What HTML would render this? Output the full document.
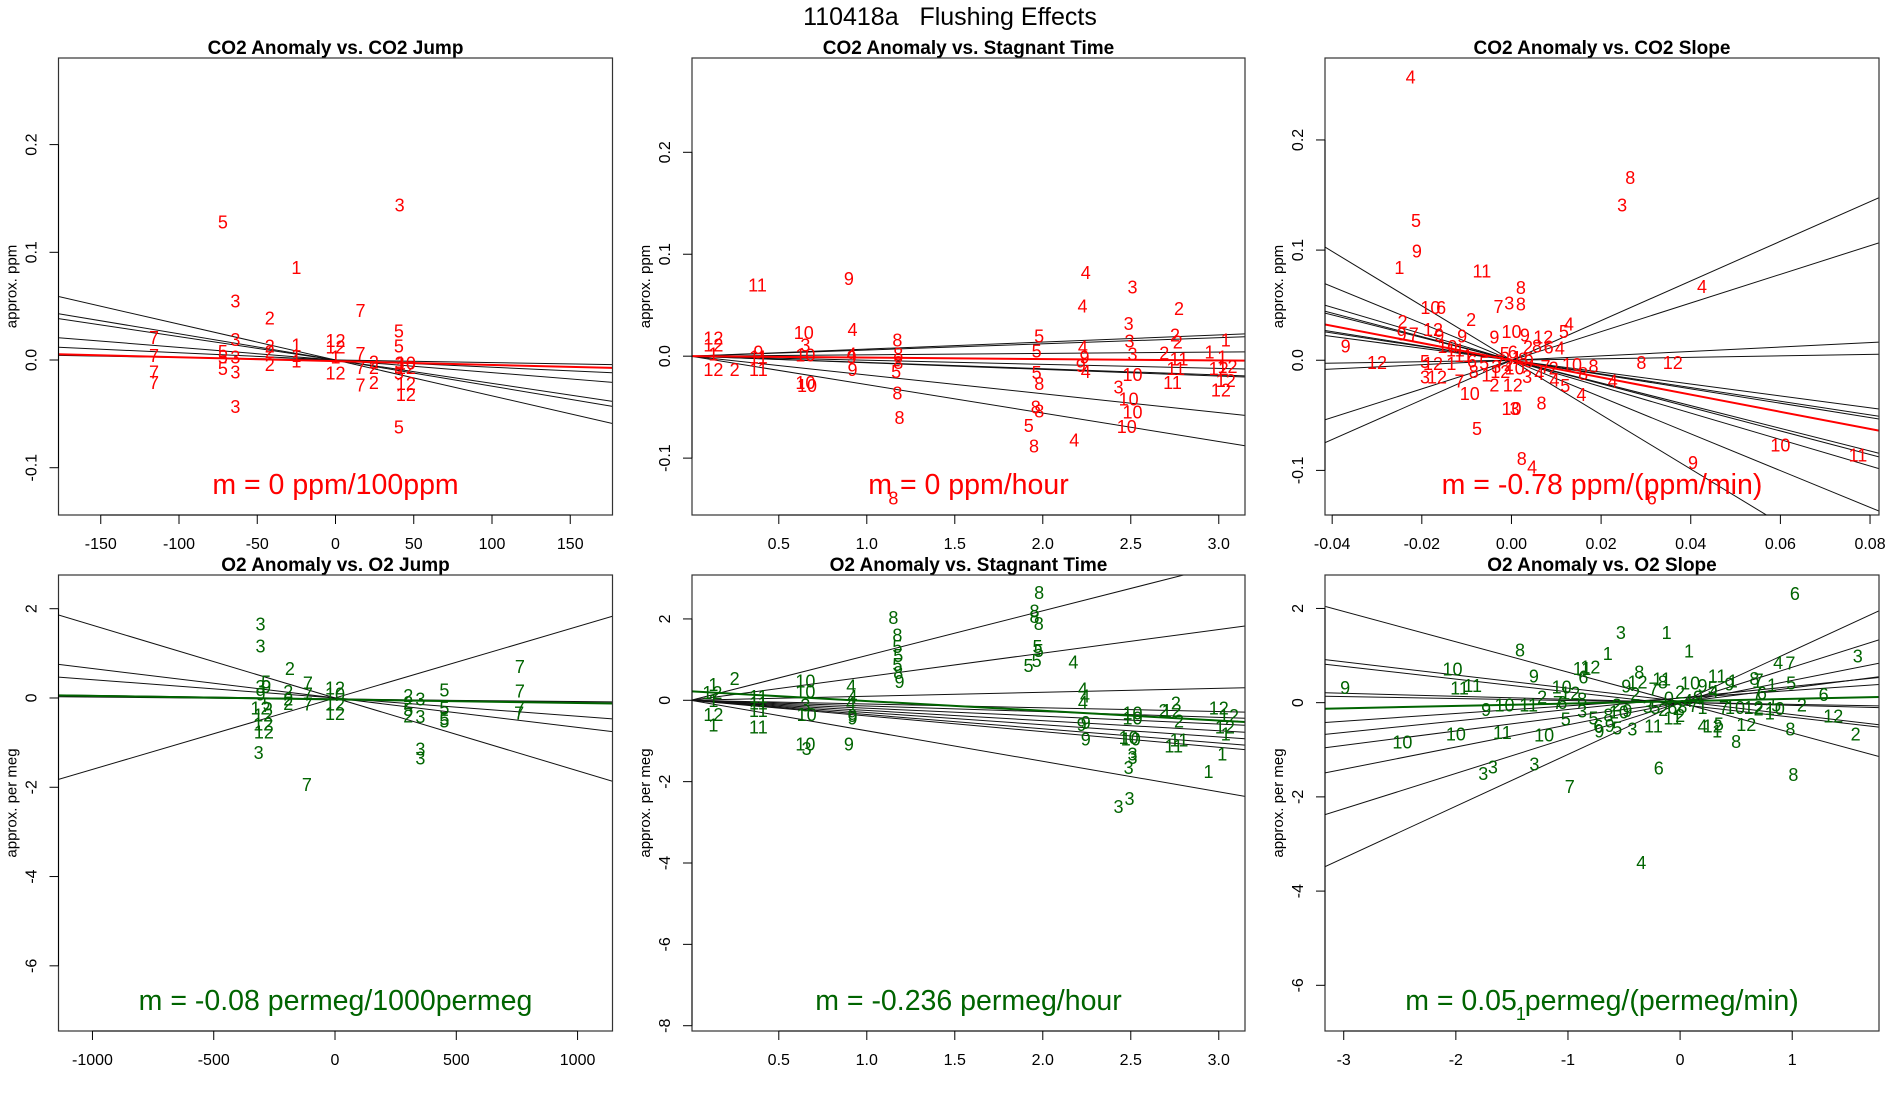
<!DOCTYPE html>
<html><head><meta charset="utf-8"><title>110418a Flushing Effects</title>
<style>
html,body{margin:0;padding:0;background:#fff;}
svg{display:block;font-family:"Liberation Sans",Arial,sans-serif;}
</style></head>
<body>
<svg id="chart" width="1900" height="1100" viewBox="0 0 1900 1100" xmlns="http://www.w3.org/2000/svg">
<rect x="0" y="0" width="1900" height="1100" fill="#fff"/>
<text x="950" y="25" text-anchor="middle" font-size="25" fill="#000" xml:space="preserve" style="white-space:pre">110418a   Flushing Effects</text>
</svg>
<script>
// ---------- Panel 1: CO2 Anomaly vs. CO2 Jump ----------
const p1Lab=["5","3","1","3","2","7","3","7","7","7","7","5","5","5","3","3","3","2","2","2","1","1","1","12","12","1","12","7","7","7","2","2","2","5","5","5","10","12","12","12","5","3"];
const p1X=[-72,41,-25,-64,-42,16,-64,-116,-116,-116,-116,-72,-72,-72,-64,-64,-64,-42,-42,-42,-25,-25,-25,0,0,0,0,16,16,16,24.5,24.5,24.5,40.5,40.5,40.5,45,45,45,45,40.5,41];
const p1Y=[0.128,0.144,0.086,0.055,0.039,0.046,0.019,0.021,0.004,-0.011,-0.021,0.008,0.003,-0.008,0.003,-0.011,-0.043,0.013,0.008,-0.004,0.014,0.004,-0.001,0.018,0.012,0.003,-0.012,0.006,-0.007,-0.023,-0.002,-0.007,-0.021,0.027,0.013,-0.062,-0.003,-0.007,-0.022,-0.032,-0.012,-0.003];
const p1Slopes=[-0.000333,-0.000243,-0.000217,-0.000117,-0.000067,-0.000024];
const p1Ints=[0,0,0,0,0,0];
const p1Fit=[-0.0000356,-0.001];
const p1XTicks=[-150,-100,-50,0,50,100,150];
const p1XTickLabels=["-150","-100","-50","0","50","100","150"];
const p1YTicks=[-0.1,0,0.1,0.2];
const p1YTickLabels=["-0.1","0.0","0.1","0.2"];

// ---------- Panel 2: CO2 Anomaly vs. Stagnant Time ----------
const p2Lab=["11","9","12","12","1","12","2","10","3","10","10","10","9","11","11","4","4","9","9","8","8","8","5","8","8","5","5","5","8","8","8","5","8","4","4","4","9","9","4","4","3","3","3","3","10","3","10","10","10","2","2","2","2","11","11","11","1","1","1","12","12","12","12","8"];
const p2X=[0.379,0.898,0.128,0.128,0.128,0.128,0.249,0.642,0.651,0.651,0.651,0.66,0.384,0.384,0.384,0.919,0.914,0.914,0.919,1.174,1.179,1.179,1.167,1.174,1.186,1.979,1.965,1.965,1.98,1.96,1.98,1.92,1.95,2.244,2.226,2.228,2.237,2.216,2.244,2.179,2.51,2.488,2.493,2.51,2.51,2.43,2.488,2.51,2.477,2.774,2.751,2.767,2.69,2.774,2.756,2.737,2.947,3.04,3.02,2.999,3.05,3.04,3.012,1.151];
const p2Y=[0.070,0.076,0.018,0.011,0.002,-0.013,-0.013,0.023,0.011,0.001,-0.026,-0.029,0.004,-0.001,-0.013,0.026,0.002,-0.001,-0.013,0.016,0.002,-0.006,-0.015,-0.036,-0.060,0.020,0.005,-0.016,-0.027,-0.050,-0.054,-0.068,-0.088,0.082,0.049,0.009,-0.001,-0.009,-0.015,-0.082,0.068,0.032,0.015,0.002,-0.018,-0.030,-0.042,-0.055,-0.069,0.047,0.021,0.014,0.003,-0.003,-0.012,-0.026,0.004,0.016,-0.001,-0.012,-0.010,-0.024,-0.033,-0.139];
const p2Slopes=[0.00694,0.00605,0.00134,-0.00146,-0.0040,-0.00615,-0.0065,-0.01844,-0.0279];
const p2Ints=[0,0,0,0,0,0,0,0,0];
const p2Fit=[-0.0014,0];
const p2XTicks=[0.5,1.0,1.5,2.0,2.5,3.0];
const p2XTickLabels=["0.5","1.0","1.5","2.0","2.5","3.0"];
const p2YTicks=[-0.1,0,0.1,0.2];
const p2YTickLabels=["-0.1","0.0","0.1","0.2"];

// ---------- Panel 3: CO2 Anomaly vs. CO2 Slope ----------
const p3Lab=["4","8","3","5","9","1","11","8","7","3","8","10","6","2","4","5","2","9","7","12","9","9","12","5","12","1","3","12","7","10","5","10","3","8","8","4","6","9","10","11","4","8","12","4","4","5","4","10","8","8","12","8","6","4","10","9","2","9","9","5","6","1","7","2","10","3","8","9","5","6","11","11","10","1","12","2","12","3","4","7","2","8"];
const p3X=[-0.0225,0.0265,0.0247,-0.0213,-0.0211,-0.025,-0.0066,0.0021,-0.0029,-0.0005,0.0021,-0.0181,-0.0157,-0.009,0.0128,0.0117,-0.0243,-0.0245,-0.0218,-0.0175,-0.0161,-0.037,-0.030,-0.0193,-0.0175,-0.0134,-0.0193,-0.0166,-0.0116,-0.0093,-0.0077,0,0.0007,0.0067,0.0023,0.0046,0.0313,0.0405,0.060,0.0773,0.0425,0.029,0.036,0.0226,0.0156,0.012,0.0096,0.0135,0.0183,0.016,0.0071,0.0057,0.0083,0.0108,0,0.003,0.0037,-0.0038,-0.011,-0.0015,0.0003,0.0012,-0.0025,-0.0006,0.0007,-0.0034,0.0026,0.0039,-0.0061,-0.0088,-0.0107,-0.0125,-0.0143,-0.0056,-0.0025,-0.0038,0.0003,0.0035,0.0062,0.0076,0.0094,-0.0084];
const p3Y=[0.257,0.166,0.141,0.127,0.099,0.084,0.081,0.066,0.049,0.052,0.051,0.048,0.048,0.037,0.033,0.026,0.035,0.024,0.024,0.028,0.023,0.013,-0.002,-0.001,-0.003,-0.003,-0.015,-0.015,-0.019,-0.030,-0.062,-0.044,-0.044,-0.039,-0.089,-0.097,-0.125,-0.093,-0.077,-0.086,0.067,-0.002,-0.002,-0.019,-0.031,-0.023,-0.018,-0.004,-0.005,-0.012,0.021,0.013,0.012,0.011,0.026,0.023,0.012,0.021,0.022,0.006,0.0075,0.0026,-0.0006,-0.0039,-0.0071,-0.0055,0.001,-0.0006,-0.0023,-0.0006,0.0042,0.0091,0.0123,-0.0136,-0.0104,-0.0227,-0.0227,-0.0146,-0.012,-0.0055,-0.0071,-0.0104];
const p3Slopes=[-2.47,-1.67,-1.2,-1.07,-1.03,-0.65,-0.62,-0.54,0.066,0.2,1.3,1.8];
const p3Ints=[0,0,0,0,0,0,0,0,0,0,0,0];
const p3Fit=[-0.78,0];
const p3XTicks=[-0.04,-0.02,0,0.02,0.04,0.06,0.08];
const p3XTickLabels=["-0.04","-0.02","0.00","0.02","0.04","0.06","0.08"];
const p3YTicks=[-0.1,0,0.1,0.2];
const p3YTickLabels=["-0.1","0.0","0.1","0.2"];

// ---------- Panel 4: O2 Anomaly vs. O2 Jump ----------
const p4Lab=["3","3","3","2","7","7","7","7","5","3","9","9","5","12","12","12","12","2","2","2","12","10","12","12","2","2","5","2","3","3","3","3","5","5","5","5","7","7","7","7"];
const p4X=[-307,-307,-315,-186,-112,-112,-112,-116,-284,-307,-284,-307,-278,-307,-296,-296,-293,-193,-193,-193,0,0,0,0,302,302,302,302,352,352,352,352,451,451,451,451,762,762,762,759];
const p4Y=[1.66,1.16,-1.22,0.66,0.34,0.09,-0.14,-1.94,0.36,0.26,0.26,0.09,-0.14,-0.22,-0.38,-0.58,-0.76,0.14,-0.02,-0.12,0.22,0.09,-0.14,-0.35,0.06,-0.1,-0.26,-0.4,-0.02,-0.42,-1.14,-1.34,0.18,-0.22,-0.46,-0.52,0.7,0.16,-0.22,-0.34];
const p4Slopes=[-0.00163,-0.00066,-0.00041,-0.0000774,0.0016,-0.00005];
const p4Ints=[0,0,0,-0.02,0,-0.03];
const p4Fit=[-0.00008,-0.032];
const p4XTicks=[-1000,-500,0,500,1000];
const p4XTickLabels=["-1000","-500","0","500","1000"];
const p4YTicks=[-6,-4,-2,0,2];
const p4YTickLabels=["-6","-4","-2","0","2"];

// ---------- Panel 5: O2 Anomaly vs. Stagnant Time ----------
const p5Lab=["8","8","8","8","8","8","5","5","5","8","9","5","5","5","5","4","4","4","4","9","9","9","10","10","10","10","3","3","3","3","3","2","2","12","2","11","11","12","12","12","1","1","1","10","10","3","10","10","3","4","4","4","9","9","9","11","11","11","11","1","12","1","12","1","2"];
const p5X=[1.979,1.953,1.953,1.977,1.151,1.174,1.174,1.179,1.174,1.179,1.186,1.97,1.977,1.965,1.919,2.174,2.228,2.24,2.228,2.221,2.244,2.244,2.51,2.51,2.488,2.5,2.51,2.51,2.488,2.493,2.43,2.756,2.686,2.733,2.774,2.774,2.744,3.0,3.058,3.035,3.04,3.02,2.942,0.651,0.651,0.651,0.658,0.651,0.658,0.912,0.919,0.91,0.919,0.919,0.898,0.384,0.384,0.384,0.384,0.128,0.123,0.128,0.128,0.128,0.249];
const p5Y=[2.65,2.19,2.06,1.89,2.04,1.60,1.32,1.1,0.88,0.68,0.46,1.32,1.23,0.98,0.86,0.94,0.28,0.11,-0.06,-0.6,-0.54,-0.95,-0.31,-0.44,-0.92,-0.95,-1.32,-1.41,-1.65,-2.41,-2.61,-0.07,-0.25,-0.25,-0.51,-0.98,-1.12,-0.19,-0.37,-0.66,-0.83,-1.32,-1.75,0.48,0.22,-0.11,-0.35,-1.07,-1.18,0.35,0.09,-0.07,-0.37,-0.44,-1.07,0.09,-0.07,-0.25,-0.66,0.39,0.19,0,-0.35,-0.61,0.53];
const p5Slopes=[1.10,0.58,0.098,-0.092,-0.14,-0.195,-0.25,-0.30,-0.35,-0.385,-0.75];
const p5Ints=[0,0,0,0,0,0,0,0,0,0,0];
const p5Fit=[-0.239,0.22];
const p5XTicks=[0.5,1.0,1.5,2.0,2.5,3.0];
const p5XTickLabels=["0.5","1.0","1.5","2.0","2.5","3.0"];
const p5YTicks=[-8,-6,-4,-2,0,2];
const p5YTickLabels=["-8","-6","-4","-2","0","2"];

// ---------- Panel 6: O2 Anomaly vs. O2 Slope ----------
const p6Lab=["6","3","1","1","1","8","10","9","11","12","6","9","11","11","10","12","2","7","6","8","9","10","11","10","10","11","10","3","3","3","7","5","3","5","6","9","9","5","3","8","10","9","2","9","2","12","8","7","8","11","4","6","11","11","2","2","10","9","11","1","9","5","4","4","7","3","8","7","1","5","7","6","6","2","5","10","1","12","2","12","8","8","8","7","10","12","2","4","12","5","1","1","3","5","2","6","8","4","9","1","7","0","2"];
const p6X=[1.024,-0.528,-0.12,0.08,-0.645,-1.428,-2.03,-1.304,-0.874,-0.8,-0.863,-2.987,-1.967,-1.85,-1.056,-0.98,-1.23,-1.09,-1.05,-0.874,-1.73,-1.566,-1.35,-2.477,-2.0,-1.585,-1.213,-1.756,-1.67,-1.30,-0.984,-1.02,-0.874,-0.772,-0.729,-0.72,-0.627,-0.56,-0.426,-0.64,-0.546,-0.47,-0.565,-0.48,-0.4,-0.38,-0.364,-0.237,-0.153,-0.164,-0.346,-0.19,-0.237,-0.066,0,0,0.09,0.2,0.33,0.47,0.44,0.29,0.3,0.874,0.984,1.585,0.663,0.7,0.82,0.99,0.69,0.73,1.28,1.086,0.856,0.845,0.8,1.366,1.566,0.59,0.984,0.5,1.01,0.39,0.49,0.656,0.7,0.2,0.29,0.346,0.33,-1.42,-0.29,-0.22,-0.15,-0.07,0.02,0.07,0.16,0.2,0.12,-0.1,-0.02];
const p6Y=[2.32,1.49,1.49,1.1,1.04,1.12,0.71,0.57,0.72,0.76,0.54,0.32,0.31,0.36,0.33,0.2,0.12,0,0,0.08,-0.14,-0.05,-0.05,-0.84,-0.67,-0.63,-0.69,-1.5,-1.37,-1.3,-1.78,-0.35,-0.18,-0.33,-0.5,-0.6,-0.48,-0.54,-0.56,-0.26,-0.2,-0.17,-0.05,0.35,0.18,0.44,0.65,0.29,0.44,0.5,-3.39,-1.39,-0.5,-0.33,-0.27,0.23,0.42,0.36,0.57,0.46,0.4,0.31,0.24,0.85,0.84,0.99,0.51,0.48,0.38,0.42,0.21,0.21,0.17,-0.05,-0.05,-0.12,-0.22,-0.28,-0.67,-0.46,-0.56,-0.82,-1.52,-0.1,-0.1,-0.1,-0.13,-0.5,-0.5,-0.45,-0.6,-6.6,-0.08,-0.1,-0.14,-0.1,-0.08,0.05,0.12,-0.1,-0.06,0.1,-0.12];
const p6Slopes=[-0.645,-0.2795,-0.270,-0.064,-0.0413,0.163,0.244,0.305,0.471,0.751,1.099];
const p6Ints=[0.002,0.028,-0.04,0.007,0.005,0.096,0.10,0.008,0,0,0];
const p6Fit=[0.0502,0.031];
const p6XTicks=[-3,-2,-1,0,1];
const p6XTickLabels=["-3","-2","-1","0","1"];
const p6YTicks=[-6,-4,-2,0,2];
const p6YTickLabels=["-6","-4","-2","0","2"];

const NS="http://www.w3.org/2000/svg";
const svg=document.getElementById("chart");
const RED="#ff0000", GREEN="#006400";

function mk(tag,attrs,parent){
  const e=document.createElementNS(NS,tag);
  for(const k in attrs) e.setAttribute(k,attrs[k]);
  (parent||svg).appendChild(e);
  return e;
}

const panels=[
 {id:"co2-jump",title:"CO2 Anomaly vs. CO2 Jump",box:[58.5,58,612.5,515],xd:[-177,177],yd:[-0.1439,0.2804],lab:p1Lab,X:p1X,Y:p1Y,sl:p1Slopes,ic:p1Ints,fit:p1Fit,xt:p1XTicks,xtl:p1XTickLabels,yt:p1YTicks,ytl:p1YTickLabels,col:RED,ylab:"approx. ppm",note:"m = 0 ppm/100ppm"},
 {id:"co2-stagnant",title:"CO2 Anomaly vs. Stagnant Time",box:[692,58,1245,515],xd:[0.0068,3.149],yd:[-0.1558,0.2925],lab:p2Lab,X:p2X,Y:p2Y,sl:p2Slopes,ic:p2Ints,fit:p2Fit,xt:p2XTicks,xtl:p2XTickLabels,yt:p2YTicks,ytl:p2YTickLabels,col:RED,ylab:"approx. ppm",note:"m = 0 ppm/hour"},
 {id:"co2-slope",title:"CO2 Anomaly vs. CO2 Slope",box:[1325,58,1879,515],xd:[-0.0416,0.082],yd:[-0.1405,0.2744],lab:p3Lab,X:p3X,Y:p3Y,sl:p3Slopes,ic:p3Ints,fit:p3Fit,xt:p3XTicks,xtl:p3XTickLabels,yt:p3YTicks,ytl:p3YTickLabels,col:RED,ylab:"approx. ppm",note:"m = -0.78 ppm/(ppm/min)"},
 {id:"o2-jump",title:"O2 Anomaly vs. O2 Jump",box:[58.5,575,612.5,1031],xd:[-1140,1144],yd:[-7.46,2.755],lab:p4Lab,X:p4X,Y:p4Y,sl:p4Slopes,ic:p4Ints,fit:p4Fit,xt:p4XTicks,xtl:p4XTickLabels,yt:p4YTicks,ytl:p4YTickLabels,col:GREEN,ylab:"approx. per meg",note:"m = -0.08 permeg/1000permeg"},
 {id:"o2-stagnant",title:"O2 Anomaly vs. Stagnant Time",box:[692,575,1245,1031],xd:[0.0068,3.149],yd:[-8.13,3.08],lab:p5Lab,X:p5X,Y:p5Y,sl:p5Slopes,ic:p5Ints,fit:p5Fit,xt:p5XTicks,xtl:p5XTickLabels,yt:p5YTicks,ytl:p5YTickLabels,col:GREEN,ylab:"approx. per meg",note:"m = -0.236 permeg/hour"},
 {id:"o2-slope",title:"O2 Anomaly vs. O2 Slope",box:[1325,575,1879,1031],xd:[-3.167,1.774],yd:[-6.97,2.71],lab:p6Lab,X:p6X,Y:p6Y,sl:p6Slopes,ic:p6Ints,fit:p6Fit,xt:p6XTicks,xtl:p6XTickLabels,yt:p6YTicks,ytl:p6YTickLabels,col:GREEN,ylab:"approx. per meg",note:"m = 0.05 permeg/(permeg/min)"}
];

panels.forEach(function(p,pi){
  const [x0,y0,x1,y1]=p.box;
  const sx=v=>x0+(v-p.xd[0])/(p.xd[1]-p.xd[0])*(x1-x0);
  const sy=v=>y1-(v-p.yd[0])/(p.yd[1]-p.yd[0])*(y1-y0);
  const g=mk("g",{});
  
  
  const cp=mk("clipPath",{id:"clip"+pi},g);
  mk("rect",{x:x0,y:y0,width:x1-x0,height:y1-y0},cp);

  const t=mk("text",{x:(x0+x1)/2,y:y0-4,"text-anchor":"middle","font-size":"19","font-weight":"bold",fill:"#000"},g);
  t.textContent=p.title;
  
  

  const lg=mk("g",{"clip-path":"url(#clip"+pi+")"},g);
  
  
  p.sl.forEach(function(s,i){
    const a=p.xd[0], b=p.xd[1];
    const ln=mk("line",{x1:sx(a),y1:sy(p.ic[i]+s*a),x2:sx(b),y2:sy(p.ic[i]+s*b),stroke:"#111","stroke-width":"1"},lg);
    
    
  });
  const a=p.xd[0], b=p.xd[1];
  const fl=mk("line",{x1:sx(a),y1:sy(p.fit[1]+p.fit[0]*a),x2:sx(b),y2:sy(p.fit[1]+p.fit[0]*b),stroke:p.col,"stroke-width":"2"},lg);
  
  

  const pg=mk("g",{"clip-path":"url(#clip"+pi+")"},g);
  
  
  p.X.forEach(function(xv,i){
    const tx=mk("text",{x:sx(xv),y:sy(p.Y[i])+6.5,"text-anchor":"middle","font-size":"18",fill:p.col},pg);
    tx.textContent=p.lab[i];
    
    
  });

  const bx=mk("rect",{x:x0,y:y0,width:x1-x0,height:y1-y0,fill:"none",stroke:"#333","stroke-width":"1.2"},g);
  
  

  const xa=mk("g",{},g);
  
  
  mk("line",{x1:sx(p.xt[0]),y1:y1,x2:sx(p.xt[p.xt.length-1]),y2:y1,stroke:"#000","stroke-width":"1"},xa);
  p.xt.forEach(function(v,i){
    mk("line",{x1:sx(v),y1:y1,x2:sx(v),y2:y1+9,stroke:"#000","stroke-width":"1"},xa);
    const tl=mk("text",{x:sx(v),y:y1+34,"text-anchor":"middle","font-size":"16",fill:"#000"},xa);
    tl.textContent=p.xtl[i];
    
    
  });

  const ya=mk("g",{},g);
  
  
  mk("line",{x1:x0,y1:sy(p.yt[0]),x2:x0,y2:sy(p.yt[p.yt.length-1]),stroke:"#000","stroke-width":"1"},ya);
  p.yt.forEach(function(v,i){
    mk("line",{x1:x0-9,y1:sy(v),x2:x0,y2:sy(v),stroke:"#000","stroke-width":"1"},ya);
    const cx=x0-22, cy=sy(v);
    const tl=mk("text",{x:cx,y:cy,"text-anchor":"middle","font-size":"16",fill:"#000",transform:"rotate(-90 "+cx+" "+cy+")"},ya);
    tl.textContent=p.ytl[i];
    
    
  });
  const tx=x0-42, ty=(y0+y1)/2;
  const yt=mk("text",{x:tx,y:ty,"text-anchor":"middle","font-size":"15",fill:"#000",transform:"rotate(-90 "+tx+" "+ty+")"},ya);
  yt.textContent=p.ylab;
  
  

  const nt=mk("text",{x:(x0+x1)/2,y:y1-21,"text-anchor":"middle","font-size":"28.5",fill:p.col},g);
  nt.textContent=p.note;
  
  
});
</script>
</body></html>
